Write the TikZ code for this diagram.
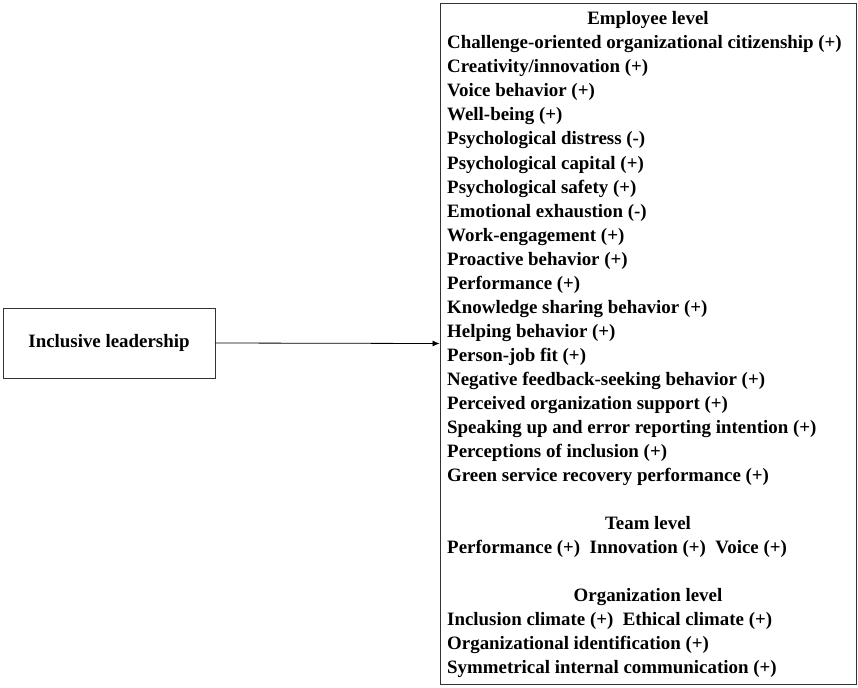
\documentclass[tikz,border=0pt]{standalone}
\usepackage{fontspec}
\setmainfont{Liberation Serif}
\usetikzlibrary{arrows.meta}
\begin{document}
\begin{tikzpicture}[x=1pt,y=-1pt,
  every node/.style={font=\fontsize{18.9}{24}\selectfont\bfseries},
  box/.style={draw=black!80,line width=0.9pt,inner sep=0pt},
  item/.style={anchor=base west,inner sep=0pt},
  head/.style={anchor=base,inner sep=0pt}]
\useasboundingbox (0,0) rectangle (858,687);
\node[box,minimum width=212pt,minimum height=70pt] (lead) at (109,343) {Inclusive leadership};
\node[box,minimum width=416pt,minimum height=681pt] (out) at (648,343.5) {};
\draw[line width=0.8pt,-{Latex[length=7pt,width=6pt]}] (lead.east) -- (out.west);
\node[head] (h1) at (648,25) {Employee level};
\node[item] (e1) at (447,49) {Challenge-oriented organizational citizenship (+)};
\node[item] (e2) at (447,73) {Creativity/innovation (+)};
\node[item] (e3) at (447,97) {Voice behavior (+)};
\node[item] (e4) at (447,121) {Well-being (+)};
\node[item] (e5) at (447,145) {Psychological distress (-)};
\node[item] (e6) at (447,169) {Psychological capital (+)};
\node[item] (e7) at (447,193) {Psychological safety (+)};
\node[item] (e8) at (447,217) {Emotional exhaustion (-)};
\node[item] (e9) at (447,241) {Work-engagement (+)};
\node[item] (e10) at (447,265) {Proactive behavior (+)};
\node[item] (e11) at (447,289) {Performance (+)};
\node[item] (e12) at (447,313) {Knowledge sharing behavior (+)};
\node[item] (e13) at (447,337) {Helping behavior (+)};
\node[item] (e14) at (447,361) {Person-job fit (+)};
\node[item] (e15) at (447,385) {Negative feedback-seeking behavior (+)};
\node[item] (e16) at (447,409) {Perceived organization support (+)};
\node[item] (e17) at (447,433) {Speaking up and error reporting intention (+)};
\node[item] (e18) at (447,457) {Perceptions of inclusion (+)};
\node[item] (e19) at (447,481) {Green service recovery performance (+)};
\node[head] (h2) at (648,529) {Team level};
\node[item] (t1) at (447,553) {Performance (+)\ \ Innovation (+)\ \ Voice (+)};
\node[head] (h3) at (648,601) {Organization level};
\node[item] (o1) at (447,625) {Inclusion climate (+)\ \ Ethical climate (+)};
\node[item] (o2) at (447,649) {Organizational identification (+)};
\node[item] (o3) at (447,673) {Symmetrical internal communication (+)};
\end{tikzpicture}
\end{document}
